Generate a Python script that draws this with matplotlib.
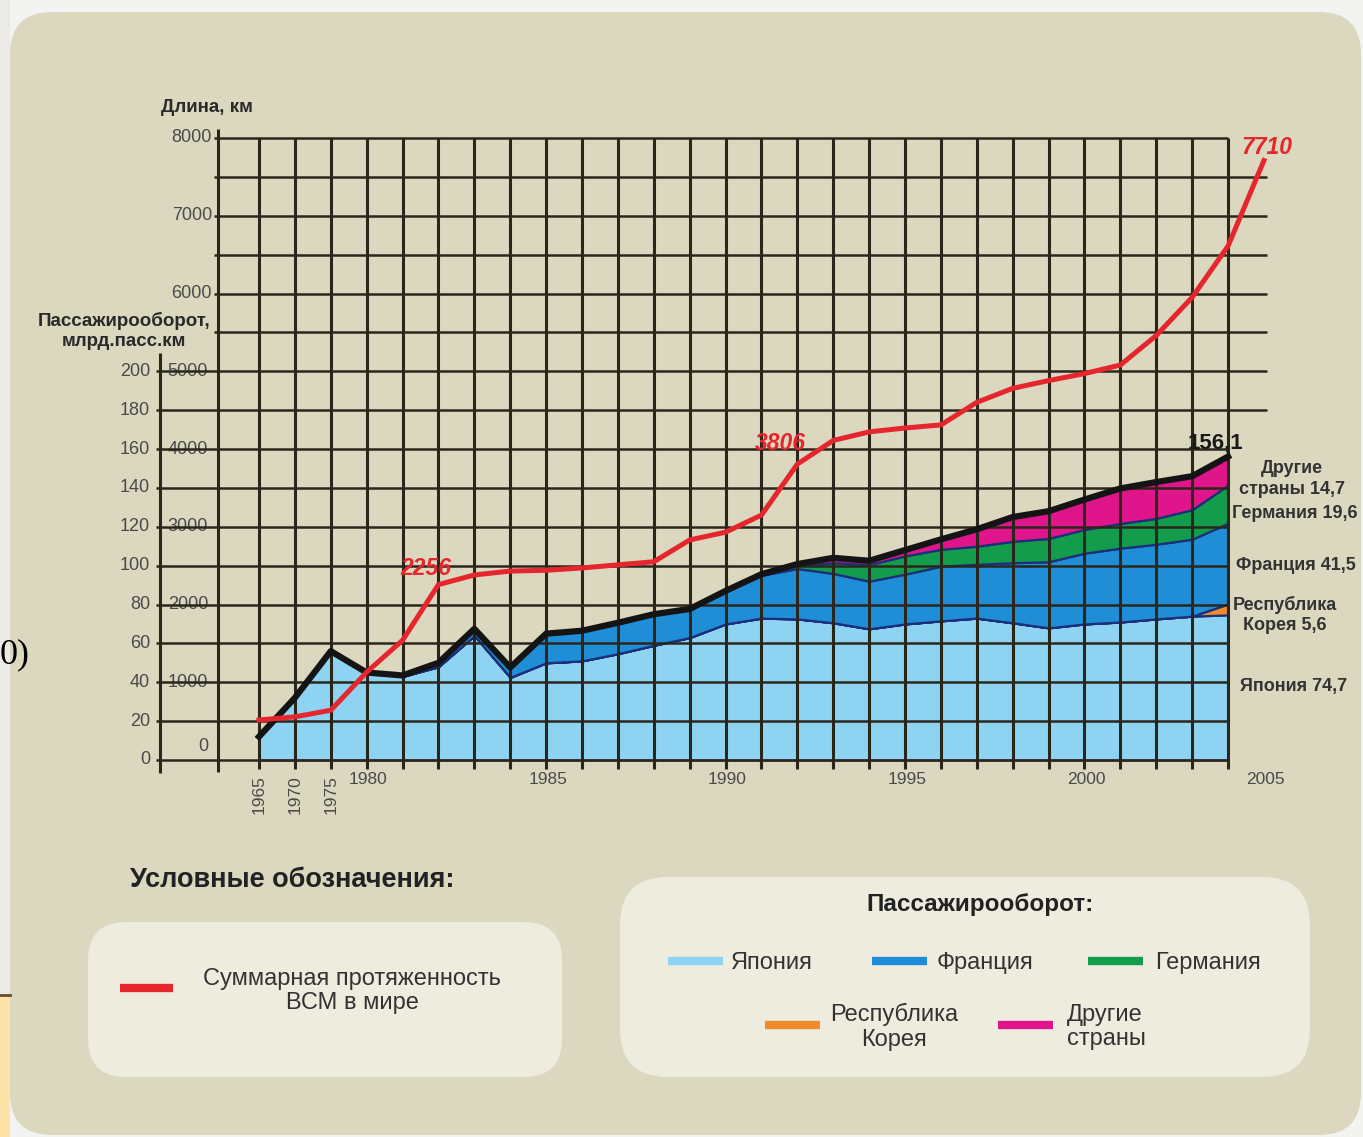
import matplotlib
matplotlib.use("Agg")
import matplotlib.pyplot as plt
from matplotlib.patches import FancyBboxPatch, Rectangle

plt.rcParams['font.family'] = ['Liberation Sans', 'DejaVu Sans']

# ---- data ----
years = ['1965', '1970', '1975', '1980', '1981', '1982', '1983', '1984', '1985',
         '1986', '1987', '1988', '1989', '1990', '1991', '1992', '1993', '1994',
         '1995', '1996', '1997', '1998', '1999', '2000', '2001', '2002', '2003',
         '2004', '2005']
label_years = ['1965', '1970', '1975', '1980', '1985', '1990', '1995', '2000', '2005']

# total length of high-speed lines in the world, km
length_km = [515, 555, 640, 1130, 1540, 2256, 2380, 2430, 2440, 2470, 2510, 2550,
             2830, 2930, 3150, 3806, 4110, 4220, 4270, 4310, 4600, 4780, 4880,
             4970, 5080, 5460, 5950, 6610, 7710]

# passenger turnover, bn pass-km (1965 .. 2004)
japan = [12, 32, 56, 45, 43, 48, 64, 42.5, 50, 51, 54.7, 59, 63, 70, 73, 72.6,
         70.6, 67.5, 70, 71.6, 73, 70.6, 68, 70, 71, 72.6, 74, 74.7]
korea = [0] * 27 + [5.6]
france = [0, 0, 0, 0, 0.5, 2, 3.5, 5.1, 15, 15.5, 15.9, 16, 14.7, 17, 22, 25.9,
          25.4, 24.5, 25.6, 28.1, 27.7, 30.9, 34, 36.4, 38, 38.4, 39.6, 41.5]
germany = [0] * 14 + [0.6, 1.5, 5.5, 8.5, 9.4, 8.7, 9.3, 11, 12, 12.2, 12.7,
                      13.3, 15.2, 19.6]
others = [0] * 15 + [0.8, 2.5, 2, 3, 5.1, 8.7, 12.5, 14, 15.4, 18, 18.7, 17.2, 14.7]

KM_PER_UNIT = 25   # 200 bn pass-km sits on the 5000 km line

# colours
PANEL = '#dbd8bf'
BOX = '#eeebdf'
GRID = '#2b261c'
RED = '#e5262d'
NAVY = '#1b2f7a'
C_JAPAN = '#8fd3f3'
C_KOREA = '#f08a2a'
C_FRANCE = '#1f8ed6'
C_GERMANY = '#129c4c'
C_OTHERS = '#e0158c'
TXT = '#4a4a4a'

# ---- figure / pixel calibration ----
W, H = 1363, 1137
X0, DX = 259, 35.89        # px of first year, px per category
Y0, KY = 760, 0.07775      # px of zero line, px per km

fig = plt.figure(figsize=(W / 100, H / 100), dpi=100)
fig.patch.set_facecolor('#f3f3f1')

bg = fig.add_axes([0, 0, 1, 1], zorder=0)
bg.set_xlim(0, W)
bg.set_ylim(H, 0)
bg.axis('off')

# outer decorations
bg.add_patch(Rectangle((0, 0), 10, H, fc='#ebeae8', ec='none'))
bg.add_patch(Rectangle((0, 995), 10, H - 995, fc='#fde3a5', ec='none'))
bg.plot([0, 10], [995, 995], color='#6b4a2a', lw=2)
bg.text(0, 655, '0)', fontsize=26, family='Liberation Serif', va='center', ha='left')

bg.add_patch(FancyBboxPatch((10, 12), W - 12, H - 14,
                            boxstyle='round,pad=0,rounding_size=42',
                            fc=PANEL, ec='none'))

ax = fig.add_axes([0, 0, 1, 1], zorder=2)
ax.patch.set_alpha(0)
ax.set_xlim(-X0 / DX, (W - X0) / DX)
ax.set_ylim(-(H - Y0) / KY, Y0 / KY)
ax.axis('off')

n = len(japan)
idx = list(range(n))
LEN_AX = -1.14
PASS_AX = -2.76

# stacked passenger areas
stack = [[v * KM_PER_UNIT for v in s] for s in (japan, korea, france, germany, others)]
ax.stackplot(idx, *stack, colors=[C_JAPAN, C_KOREA, C_FRANCE, C_GERMANY, C_OTHERS],
             edgecolor=NAVY, linewidth=1.6, zorder=1)

# grid
ax.vlines(idx, -110, 8000, color=GRID, lw=2.2, zorder=3)
ax.vlines(LEN_AX, -150, 8110, color=GRID, lw=2.2, zorder=3)
ax.vlines(PASS_AX, -170, 5230, color=GRID, lw=2.2, zorder=3)
for km in range(0, 8001, 500):
    start = PASS_AX - 0.1 if km <= 5000 else LEN_AX - 0.12
    # rows near the right-hand labels stop at the last year
    end = n + 0.08 if 4500 <= km < 8000 else n - 1
    ax.hlines(km, start, end, color=GRID, lw=1.8, zorder=3)

# total turnover line and length line
total = [sum(v) for v in zip(japan, korea, france, germany, others)]
ax.plot(idx, [v * KM_PER_UNIT for v in total], color='#141414', lw=4.5, zorder=5)
ax.plot(range(len(length_km)), length_km, color=RED, lw=3.6, zorder=6)

# axis tick labels
for v in range(0, 201, 20):
    ax.text(PASS_AX - 0.28, v * KM_PER_UNIT, str(v), ha='right', va='center',
            fontsize=13, color=TXT)
for km in (6000, 7000, 8000):
    ax.text(LEN_AX - 0.17, km, str(km), ha='right', va='center', fontsize=13, color=TXT)
for km in (1000, 2000, 3000, 4000, 5000):
    ax.text(-1.98, km, str(km), ha='center', va='center', fontsize=13, color=TXT, zorder=2)
ax.text(-1.56, 60, '0', ha='center', va='bottom', fontsize=13, color=TXT)

for i, y in enumerate(years):
    if y not in label_years:
        continue
    if y in ('1965', '1970', '1975'):
        ax.text(i, -190, y, rotation=90, ha='center', va='top', fontsize=12.5, color=TXT)
    else:
        ax.text(i + 0.05, -245, y, ha='center', va='center', fontsize=12.5, color=TXT)

# axis titles
bg.text(207, 107, 'Длина, км', ha='center', va='center', fontsize=13.5,
        weight='bold', color='#2a2a2a')
bg.text(124, 331, 'Пассажирооборот,\nмлрд.пасс.км', ha='center', va='center',
        fontsize=13.5, weight='bold', color='#2a2a2a', linespacing=1.2)

# value labels on the red line
for i, dx, dy in ((5, -13, 16), (15, -17, 21), (28, 3, 13)):
    ax.annotate(str(length_km[i]), xy=(i, length_km[i]), xytext=(dx, dy),
                textcoords='offset pixels', ha='center', va='center',
                fontsize=16.5, weight='bold', style='italic', color=RED, zorder=7)

ax.annotate(f'{total[-1]:.1f}'.replace('.', ','), xy=(n - 1, total[-1] * KM_PER_UNIT),
            xytext=(-13, 14), textcoords='offset pixels', ha='center', va='center',
            fontsize=16, weight='bold', color='#1a1a1a', zorder=7)


def fmt(v):
    return f'{v:.1f}'.replace('.', ',')


right_labels = [
    (1292, 479, f'Другие\nстраны {fmt(others[-1])}'),
    (1295, 514, f'Германия {fmt(germany[-1])}'),
    (1296, 565, f'Франция {fmt(france[-1])}'),
    (1285, 615, f'Республика\nКорея {fmt(korea[-1])}'),
    (1294, 687, f'Япония {fmt(japan[-1])}'),
]
for x, y, s in right_labels:
    bg.text(x, y, s, ha='center', va='center', fontsize=13, weight='bold',
            color='#333333', linespacing=1.25)

# ---- legend ----
bg.text(130, 880, 'Условные обозначения:', ha='left', va='center', fontsize=19.5,
        weight='bold', color='#222222')
bg.add_patch(FancyBboxPatch((88, 922), 474, 155, boxstyle='round,pad=0,rounding_size=38',
                            fc=BOX, ec='none'))
bg.plot([120, 173], [988, 988], color=RED, lw=6, solid_capstyle='butt')
bg.text(352, 991, 'Суммарная протяженность\nВСМ в мире', ha='center', va='center',
        fontsize=17, color='#333333', linespacing=1.15)

bg.add_patch(FancyBboxPatch((620, 877), 690, 200, boxstyle='round,pad=0,rounding_size=48',
                            fc=BOX, ec='none'))
bg.text(980, 904, 'Пассажирооборот:', ha='center', va='center', fontsize=17.5,
        weight='bold', color='#222222')

legend_items = [
    (668, 961, C_JAPAN, 'Япония', 731, 'left'),
    (872, 961, C_FRANCE, 'Франция', 937, 'left'),
    (1088, 961, C_GERMANY, 'Германия', 1155, 'left'),
    (765, 1025, C_KOREA, 'Республика\nКорея', 894, 'center'),
    (998, 1025, C_OTHERS, 'Другие\nстраны', 1067, 'left'),
]
for x, y, c, s, tx, ha in legend_items:
    bg.plot([x, x + 55], [y, y], color=c, lw=6, solid_capstyle='butt')
    bg.text(tx, y + 2, s, ha=ha, va='center', fontsize=17, color='#333333',
            linespacing=1.15)

fig.savefig('out.png', dpi=100, facecolor=fig.get_facecolor())
